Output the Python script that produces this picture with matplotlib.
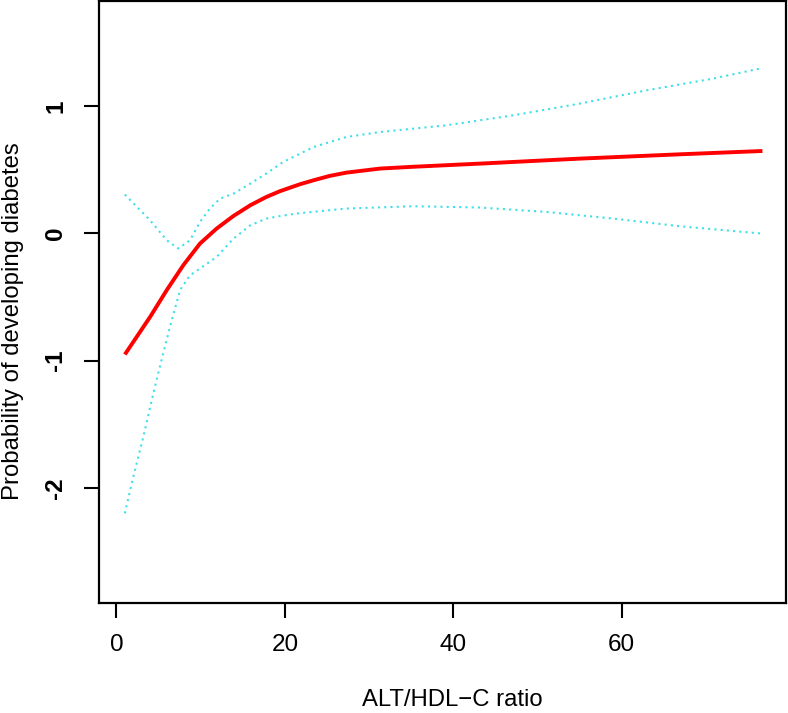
import matplotlib
matplotlib.use("Agg")
import matplotlib.pyplot as plt

# Estimated curve (red)
fit_x = [1.0, 4.0, 5.97, 7.94, 9.92, 11.9, 13.9, 15.9, 17.8, 19.4, 21.8, 23.4, 25.3, 27.3, 31.3, 35.2, 43.2, 55.0, 66.9, 76.7]
fit_y = [-0.952, -0.657, -0.447, -0.251, -0.081, 0.037, 0.136, 0.22, 0.285, 0.33, 0.385, 0.416, 0.45, 0.476, 0.508, 0.522, 0.547, 0.586, 0.62, 0.646]

# Upper confidence band
up_x = [1.0, 4.0, 5.97, 7.35, 8.74, 9.92, 11.1, 12.3, 13.9, 15.9, 17.8, 19.8, 21.4, 23.4, 27.3, 31.3, 39.2, 47.1, 55.0, 62.9, 70.8, 76.7]
up_y = [0.304, 0.102, -0.055, -0.12, -0.055, 0.089, 0.194, 0.272, 0.311, 0.39, 0.469, 0.56, 0.612, 0.677, 0.756, 0.795, 0.848, 0.926, 1.018, 1.122, 1.214, 1.298]

# Lower confidence band
lo_x = [1.0, 2.0, 3.19, 4.38, 5.3, 6.36, 7.55, 8.74, 9.92, 11.9, 13.9, 15.9, 17.8, 19.4, 21.4, 27.3, 35.2, 43.2, 51.1, 59.0, 66.9, 76.7]
lo_y = [-2.2, -1.913, -1.6, -1.258, -1.01, -0.735, -0.447, -0.33, -0.277, -0.186, -0.042, 0.063, 0.115, 0.135, 0.155, 0.194, 0.212, 0.202, 0.167, 0.115, 0.055, -0.003]

x_ticks = [0, 20, 40, 60]
y_ticks = [-2, -1, 0, 1]
x_label = "ALT/HDL\u2212C ratio"
y_label = "Probability of developing diabetes"

plt.rcParams['font.family'] = ['Liberation Sans', 'DejaVu Sans']

fig = plt.figure(figsize=(7.88, 7.13), dpi=100)
ax = fig.add_axes([99/788, 1 - 603/713, (786 - 99)/788, (603 - 1)/713])

ci_color = '#3ee0e8'
ax.plot(up_x, up_y, color=ci_color, lw=1.5, linestyle=(0, (1, 2)), dash_capstyle='butt')
ax.plot(lo_x, lo_y, color=ci_color, lw=1.5, linestyle=(0, (1, 2)), dash_capstyle='butt')
ax.plot(fit_x, fit_y, color='#ff0000', lw=2.8, solid_capstyle='butt', solid_joinstyle='round')

ax.set_xlim(-2.07, 79.5)
ax.set_ylim(-2.904, 1.824)

ax.set_xticks(x_ticks)
ax.set_xticklabels([str(v) for v in x_ticks], fontsize=17.5)
ax.set_yticks(y_ticks)
ax.set_yticklabels([str(v) for v in y_ticks], fontsize=17.5, fontweight='bold', rotation=90, va='center')

ax.tick_params(axis='x', length=10.5, width=1.5, pad=12)
ax.tick_params(axis='y', length=11, width=1.5, pad=12)
for s in ax.spines.values():
    s.set_linewidth(1.6)

fig.text(452/788, 1 - 706/713, x_label, ha='center', va='baseline', fontsize=17.2)
fig.text(13/788, 1 - 321.5/713, y_label, ha='center', va='center', rotation=90, fontsize=17.2)

fig.savefig("out.png", dpi=100)
